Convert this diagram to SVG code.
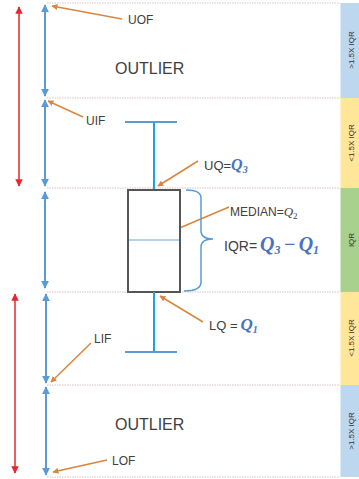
<svg xmlns="http://www.w3.org/2000/svg" width="359" height="479" viewBox="0 0 359 479">
<defs>
<style>
.dot{stroke:#d8c4c4;stroke-width:1;stroke-dasharray:1.5,1}
.blue{stroke:#5b9bd5;stroke-width:2;fill:none}
.red{stroke:#e8262e;stroke-width:1.5;fill:none}
.or{stroke:#d9853e;stroke-width:1.5;fill:none}
.wh{stroke:#1fa3dc;stroke-width:2;fill:none}
.cap{stroke:#5b9bd5;stroke-width:2;fill:none}
.lbl{font-family:"Liberation Sans",Arial,sans-serif;fill:#404040}
.q{font-family:"Liberation Serif","Times New Roman",serif;font-style:italic;font-weight:bold;fill:#4a72bd}
.band{font-family:"Liberation Sans",Arial,sans-serif;font-size:8px;fill:#333}
</style>
<marker id="ab" viewBox="0 0 10 10" refX="9" refY="5" markerWidth="4" markerHeight="4" orient="auto-start-reverse"><path d="M0,0 L10,5 L0,10 z" fill="#5b9bd5"/></marker>
<marker id="ar" viewBox="0 0 10 10" refX="9" refY="5" markerWidth="5" markerHeight="5" orient="auto-start-reverse"><path d="M0,0 L10,5 L0,10 z" fill="#e8262e"/></marker>
<marker id="ao" viewBox="0 0 10 10" refX="9" refY="5" markerWidth="4" markerHeight="4" orient="auto"><path d="M0,0 L10,5 L0,10 z" fill="#d9853e"/></marker>
</defs>
<rect width="359" height="479" fill="#fff"/>
<g id="bands">
<rect x="340.5" y="3" width="18.5" height="95" fill="#bdd7ee"/>
<rect x="340.5" y="98" width="18.5" height="90" fill="#ffe699"/>
<rect x="340.5" y="188" width="18.5" height="104" fill="#a9d18e"/>
<rect x="340.5" y="292" width="18.5" height="93" fill="#ffe699"/>
<rect x="340.5" y="385" width="18.5" height="92" fill="#bdd7ee"/>
<text class="band" transform="translate(354,50) rotate(-90)" text-anchor="middle">&gt;1.5X IQR</text>
<text class="band" transform="translate(354,143) rotate(-90)" text-anchor="middle">&lt;1.5X IQR</text>
<text class="band" transform="translate(354,240) rotate(-90)" text-anchor="middle">IQR</text>
<text class="band" transform="translate(354,338) rotate(-90)" text-anchor="middle">&lt;1.5X IQR</text>
<text class="band" transform="translate(354,431) rotate(-90)" text-anchor="middle">&gt;1.5X IQR</text>
</g>
<g id="gridlines">
<line class="dot" x1="47" y1="3" x2="340" y2="3"/>
<line class="dot" x1="47" y1="98" x2="340" y2="98"/>
<line class="dot" x1="47" y1="188" x2="340" y2="188"/>
<line class="dot" x1="47" y1="292" x2="340" y2="292"/>
<line class="dot" x1="47" y1="385" x2="340" y2="385"/>
<line class="dot" x1="47" y1="477" x2="340" y2="477"/>
</g>
<g id="connectors">
<line class="blue" x1="45" y1="5" x2="45" y2="96" marker-start="url(#ab)" marker-end="url(#ab)"/>
<line class="blue" x1="45" y1="100" x2="45" y2="186" marker-start="url(#ab)" marker-end="url(#ab)"/>
<line class="blue" x1="45" y1="192" x2="45" y2="288" marker-start="url(#ab)" marker-end="url(#ab)"/>
<line class="blue" x1="46" y1="294" x2="46" y2="383" marker-start="url(#ab)" marker-end="url(#ab)"/>
<line class="blue" x1="46" y1="387" x2="46" y2="475" marker-start="url(#ab)" marker-end="url(#ab)"/>
<line class="red" x1="19" y1="7" x2="19" y2="186" marker-start="url(#ar)" marker-end="url(#ar)"/>
<line class="red" x1="15" y1="294" x2="15" y2="473" marker-start="url(#ar)" marker-end="url(#ar)"/>
<line class="or" x1="122" y1="19" x2="52" y2="6" marker-end="url(#ao)"/>
<line class="or" x1="83" y1="117" x2="48" y2="101" marker-end="url(#ao)"/>
<line class="or" x1="198" y1="161" x2="158" y2="186" marker-end="url(#ao)"/>
<line class="or" x1="229" y1="207" x2="156" y2="238" marker-end="url(#ao)"/>
<line class="or" x1="203" y1="322" x2="160" y2="296" marker-end="url(#ao)"/>
<line class="or" x1="91" y1="343" x2="51" y2="382" marker-end="url(#ao)"/>
<line class="or" x1="107" y1="460" x2="53" y2="472" marker-end="url(#ao)"/>
</g>
<g id="boxplot">
<line class="cap" x1="125" y1="122" x2="177" y2="122"/>
<line class="wh" x1="154" y1="122" x2="154" y2="190"/>
<rect x="128" y="190" width="52" height="102" fill="#fff" stroke="#555" stroke-width="2"/>
<line x1="129" y1="240" x2="179" y2="240" stroke="#9dc3e6" stroke-width="1.5"/>
<line class="wh" x1="154" y1="292" x2="154" y2="352"/>
<line class="cap" x1="125" y1="352" x2="177" y2="352"/>
<path d="M186,190 Q201,190 201,198 L201,231 Q201,239 213,239 Q201,239 201,247 L201,282 Q201,291 184,291" stroke="#5b9bd5" stroke-width="1.5" fill="none"/>
</g>
<g id="labels">
<text class="lbl" x="128" y="24" font-size="12">UOF</text>
<text class="lbl" x="115" y="74" font-size="16" fill="#222">OUTLIER</text>
<text class="lbl" x="86" y="125" font-size="12">UIF</text>
<text class="lbl" x="204" y="170" font-size="13">UQ=<tspan class="q" font-size="16">Q</tspan><tspan class="q" font-size="10" dy="3">3</tspan></text>
<text class="lbl" x="230" y="216" font-size="12">MEDIAN=<tspan font-family="Liberation Serif,serif" font-style="italic" font-size="13">Q</tspan><tspan font-family="Liberation Serif,serif" font-size="9" dy="3">2</tspan></text>
<text class="lbl" x="224" y="251" font-size="14">IQR=<tspan class="q" font-size="20" dx="3">Q</tspan><tspan class="q" font-size="12" dy="3">3</tspan><tspan class="q" font-size="20" dy="-3" dx="3">−</tspan><tspan class="q" font-size="20" dx="3">Q</tspan><tspan class="q" font-size="12" dy="3">1</tspan></text>
<text class="lbl" x="209" y="330" font-size="13">LQ =<tspan class="q" font-size="17" dx="3">Q</tspan><tspan class="q" font-size="10" dy="3">1</tspan></text>
<text class="lbl" x="94" y="343" font-size="12">LIF</text>
<text class="lbl" x="115" y="430" font-size="16" fill="#222">OUTLIER</text>
<text class="lbl" x="112" y="465" font-size="12">LOF</text>
</g>
</svg>
